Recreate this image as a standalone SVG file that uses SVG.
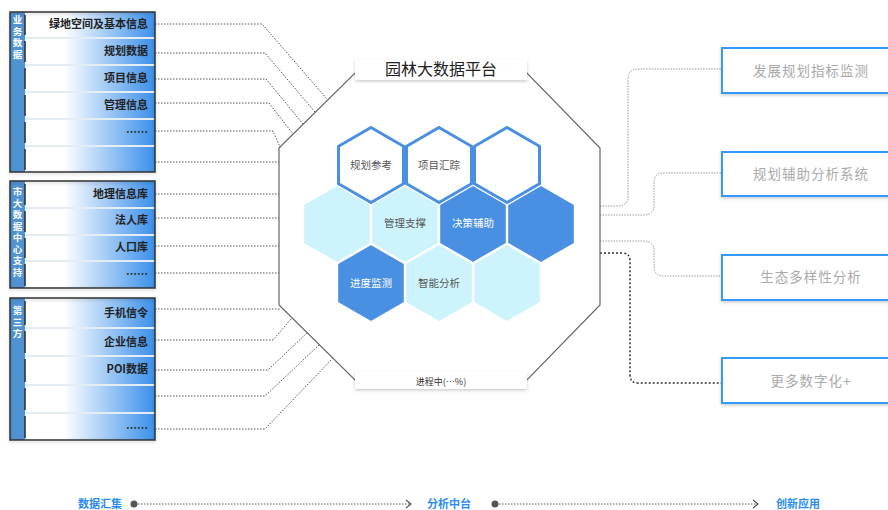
<svg xmlns="http://www.w3.org/2000/svg" width="888" height="510" viewBox="0 0 888 510">
<style>
.lbl{font-family:"Noto Sans CJK SC","Noto Sans",sans-serif;font-size:11px;font-weight:bold;fill:#222;text-anchor:end}
.strip{fill:#4f93d3}
.stxt{font-family:"Noto Sans CJK SC",sans-serif;font-size:9.5px;font-weight:bold;fill:#fff;writing-mode:vertical-rl;text-orientation:upright;letter-spacing:2px}
.frame{fill:none;stroke:#333;stroke-width:1.5}
.sep{stroke:#e4ecf4;stroke-width:2}
.tick{stroke:#333;stroke-width:1.6}
.dot{fill:none;stroke:#555;stroke-width:1;stroke-dasharray:1.5 1.5}
.dotl{fill:none;stroke:#999;stroke-width:1;stroke-dasharray:1.5 1.2}
.dotd{fill:none;stroke:#333;stroke-width:1.5;stroke-dasharray:2 2}
.hexc{fill:#cdf4fc;stroke:#fff;stroke-width:2}
.hexb{fill:#4a90e2;stroke:#fff;stroke-width:2}
.hexo{fill:#fff;stroke:#4a90e2;stroke-width:3}
.ht{font-family:"Noto Sans CJK SC",sans-serif;font-size:10.5px;fill:#555;text-anchor:middle}
.htw{font-family:"Noto Sans CJK SC",sans-serif;font-size:10.5px;fill:#fff;text-anchor:middle}
.rbox{fill:#fff;stroke:#3399ff;stroke-width:2}
.rt{font-family:"Noto Sans CJK SC",sans-serif;font-size:13.5px;fill:#aaa;text-anchor:middle;letter-spacing:1px}
.tl{font-family:"Noto Sans CJK SC",sans-serif;font-size:11px;font-weight:bold;fill:#2a8cf0;text-anchor:middle}
</style>
<defs>
<linearGradient id="rowg" x1="0" y1="0" x2="1" y2="0">
<stop offset="0" stop-color="#fff"/>
<stop offset="0.3" stop-color="#fff"/>
<stop offset="1" stop-color="#3a8fea"/>
</linearGradient>
<filter id="sh" x="-10%" y="-10%" width="120%" height="130%">
<feDropShadow dx="0" dy="1.5" stdDeviation="1.5" flood-color="#000" flood-opacity="0.2"/>
</filter>
<polygon id="hx" points="0,-39 33.8,-19.5 33.8,19.5 0,39 -33.8,19.5 -33.8,-19.5"/>
<polygon id="hxo" points="0,-37.5 32.5,-18.75 32.5,18.75 0,37.5 -32.5,18.75 -32.5,-18.75"/>
</defs>
<rect width="888" height="510" fill="#fff"/>

<g id="connectors">
<path class="dot" d="M155,24 H262 L327,99"/>
<path class="dot" d="M155,53 H265 L315,112"/>
<path class="dot" d="M155,79 H266 L303,124"/>
<path class="dot" d="M155,103 H269 L293,134"/>
<path class="dot" d="M155,131 H273 L280,147"/>
<path class="dot" d="M155,162 H279"/>
<path class="dot" d="M155,194 H279"/>
<path class="dot" d="M155,218 H279"/>
<path class="dot" d="M155,246 H279"/>
<path class="dot" d="M155,273 H279"/>
<path class="dot" d="M155,309 H280"/>
<path class="dot" d="M155,340 H273 L292,318"/>
<path class="dot" d="M155,370 H268 L307,333"/>
<path class="dot" d="M155,396 H265 L319,345"/>
<path class="dot" d="M155,429 H265 L333,358"/>
<path class="dotl" d="M600,206 H618 Q628,206 628,196 V79 Q628,69 638,69 H722"/>
<path class="dotl" d="M600,215 H644 Q654,215 654,205 V183 Q654,173 664,173 H722"/>
<path class="dotl" d="M600,241 H644 Q654,241 654,251 V266 Q654,276 664,276 H722"/>
<path class="dotd" d="M600,253 H622 Q630,253 630,261 V375 Q630,383 638,383 H722"/>
</g>

<g id="panel-business">
<rect x="25" y="12" width="130" height="160" fill="url(#rowg)"/>
<rect class="strip" x="10" y="12" width="15" height="160"/>
<line class="sep" x1="25" y1="38" x2="155" y2="38"/>
<line class="sep" x1="25" y1="65" x2="155" y2="65"/>
<line class="sep" x1="25" y1="92" x2="155" y2="92"/>
<line class="sep" x1="25" y1="119" x2="155" y2="119"/>
<line class="sep" x1="25" y1="146" x2="155" y2="146"/>
<line class="tick" x1="25" y1="15" x2="25" y2="35"/>
<line class="tick" x1="25" y1="41" x2="25" y2="62"/>
<line class="tick" x1="25" y1="68" x2="25" y2="89"/>
<line class="tick" x1="25" y1="95" x2="25" y2="116"/>
<line class="tick" x1="25" y1="122" x2="25" y2="143"/>
<line class="tick" x1="25" y1="149" x2="25" y2="170"/>
<rect class="frame" x="10" y="12" width="145" height="160" filter="url(#sh)"/>
<text class="stxt" x="17.5" y="15">业务数据</text>
<text class="lbl" x="148" y="28">绿地空间及基本信息</text>
<text class="lbl" x="148" y="55">规划数据</text>
<text class="lbl" x="148" y="82">项目信息</text>
<text class="lbl" x="148" y="109">管理信息</text>
<text class="lbl" x="148" y="136">……</text>
</g>

<g id="panel-city">
<rect x="25" y="181" width="130" height="107" fill="url(#rowg)"/>
<rect class="strip" x="10" y="181" width="15" height="107"/>
<line class="sep" x1="25" y1="208" x2="155" y2="208"/>
<line class="sep" x1="25" y1="235" x2="155" y2="235"/>
<line class="sep" x1="25" y1="261" x2="155" y2="261"/>
<line class="tick" x1="25" y1="184" x2="25" y2="205"/>
<line class="tick" x1="25" y1="211" x2="25" y2="232"/>
<line class="tick" x1="25" y1="238" x2="25" y2="258"/>
<line class="tick" x1="25" y1="264" x2="25" y2="286"/>
<rect class="frame" x="10" y="181" width="145" height="107" filter="url(#sh)"/>
<text class="stxt" x="17.5" y="187">市大数据中心支持</text>
<text class="lbl" x="148" y="198">地理信息库</text>
<text class="lbl" x="148" y="224">法人库</text>
<text class="lbl" x="148" y="251">人口库</text>
<text class="lbl" x="148" y="278">……</text>
</g>

<g id="panel-third">
<rect x="25" y="298" width="130" height="142" fill="url(#rowg)"/>
<rect class="strip" x="10" y="298" width="15" height="142"/>
<line class="sep" x1="25" y1="328" x2="155" y2="328"/>
<line class="sep" x1="25" y1="356" x2="155" y2="356"/>
<line class="sep" x1="25" y1="385" x2="155" y2="385"/>
<line class="sep" x1="25" y1="413" x2="155" y2="413"/>
<line class="tick" x1="25" y1="301" x2="25" y2="325"/>
<line class="tick" x1="25" y1="331" x2="25" y2="353"/>
<line class="tick" x1="25" y1="359" x2="25" y2="382"/>
<line class="tick" x1="25" y1="388" x2="25" y2="410"/>
<line class="tick" x1="25" y1="416" x2="25" y2="438"/>
<rect class="frame" x="10" y="298" width="145" height="142" filter="url(#sh)"/>
<text class="stxt" x="17.5" y="306">第三方</text>
<text class="lbl" x="148" y="317">手机信令</text>
<text class="lbl" x="148" y="346">企业信息</text>
<text class="lbl" x="148" y="373">POI数据</text>
<text class="lbl" x="148" y="432">……</text>
</g>

<g id="platform">
<polygon points="355,73 527,73 600,148 600,305 527,380 355,380 279,305 279,148" fill="#fff" stroke="#666" stroke-width="1.2"/>
<rect x="355" y="60" width="172" height="20" fill="#fff" filter="url(#sh)"/>
<text x="441" y="75" font-family="Noto Sans CJK SC,sans-serif" font-size="16px" fill="#222" text-anchor="middle">园林大数据平台</text>
<rect x="355" y="372" width="172" height="17" fill="#fff" filter="url(#sh)"/>
<text x="441" y="385" font-family="Noto Sans CJK SC,sans-serif" font-size="9px" fill="#333" text-anchor="middle">进程中(…%)</text>
</g>

<g id="hex-row2">
<use href="#hx" class="hexc" x="337" y="224"/>
<use href="#hx" class="hexc" x="405" y="224"/>
<use href="#hx" class="hexb" x="473" y="224"/>
<use href="#hx" class="hexb" x="541" y="224"/>
</g>
<g id="hex-row3">
<use href="#hx" class="hexb" x="371" y="283"/>
<use href="#hx" class="hexc" x="439" y="283"/>
<use href="#hx" class="hexc" x="507" y="283"/>
</g>
<g id="hex-row1">
<use href="#hxo" class="hexo" x="371" y="165"/>
<use href="#hxo" class="hexo" x="439" y="165"/>
<use href="#hxo" class="hexo" x="507" y="165"/>
</g>
<g id="hex-labels">
<text class="ht" x="371" y="169">规划参考</text>
<text class="ht" x="439" y="169">项目汇踪</text>
<text class="ht" x="405" y="227">管理支撑</text>
<text class="htw" x="473" y="227">决策辅助</text>
<text class="htw" x="371" y="287">进度监测</text>
<text class="ht" x="439" y="287">智能分析</text>
</g>

<g id="app-1">
<rect class="rbox" x="722" y="48" width="180" height="45" filter="url(#sh)"/>
<text class="rt" x="811" y="76">发展规划指标监测</text>
</g>
<g id="app-2">
<rect class="rbox" x="722" y="152" width="180" height="44" filter="url(#sh)"/>
<text class="rt" x="811" y="179">规划辅助分析系统</text>
</g>
<g id="app-3">
<rect class="rbox" x="722" y="255" width="180" height="45" filter="url(#sh)"/>
<text class="rt" x="811" y="282">生态多样性分析</text>
</g>
<g id="app-4">
<rect class="rbox" x="722" y="358" width="180" height="45" filter="url(#sh)"/>
<text class="rt" x="811" y="386">更多数字化+</text>
</g>

<g id="timeline">
<text class="tl" x="100" y="508">数据汇集</text>
<circle cx="134" cy="504" r="3.5" fill="#555"/>
<line class="dot" x1="138" y1="504" x2="411" y2="504"/>
<polyline points="406,500 411,504 406,508" fill="none" stroke="#555" stroke-width="1.2"/>
<text class="tl" x="449" y="508">分析中台</text>
<circle cx="495" cy="504" r="3.5" fill="#555"/>
<line class="dot" x1="499" y1="504" x2="758" y2="504"/>
<polyline points="753,500 758,504 753,508" fill="none" stroke="#555" stroke-width="1.2"/>
<text class="tl" x="798" y="508">创新应用</text>
</g>
</svg>
